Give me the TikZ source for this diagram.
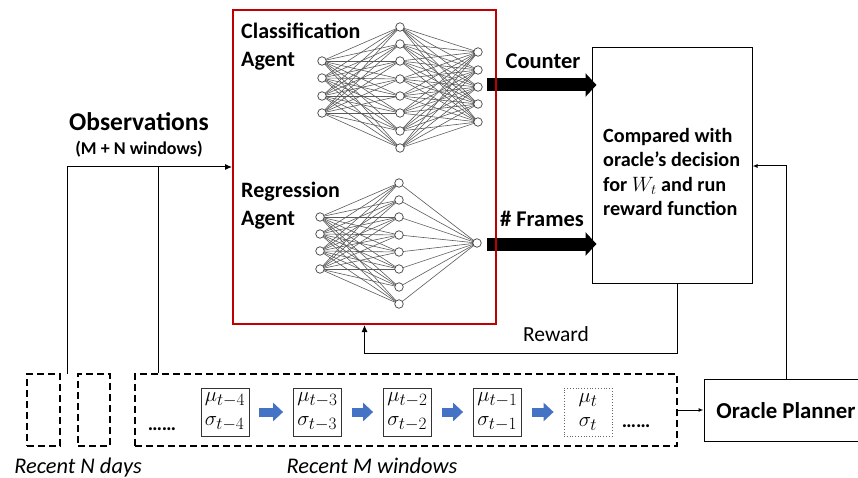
\documentclass[tikz,border=0pt]{standalone}
\usepackage{fontspec}
\setmainfont{Carlito}
\usetikzlibrary{arrows.meta,calc}
\DeclareMathSizes{22}{22}{17}{13}
\definecolor{agentred}{HTML}{C00000}
\definecolor{stepblue}{HTML}{4472C4}
\definecolor{wire}{HTML}{5A5A5A}

\begin{document}
\begin{tikzpicture}[x=1pt,y=-1pt,
  neuron/.style={circle, draw=black!75, fill=white, line width=0.7pt, minimum size=8.5pt, inner sep=0pt},
  synapse/.style={draw=wire, line width=0.6pt},
  agentbox/.style={draw=agentred, line width=2pt, inner sep=0pt},
  plainbox/.style={draw=black, line width=1pt, inner sep=0pt},
  dashbox/.style={draw=black, line width=1.3pt, dash pattern=on 7pt off 4pt, inner sep=0pt},
  statbox/.style={draw=black!80, line width=0.8pt, minimum width=48pt, minimum height=48pt, inner sep=0pt, align=left, font=\fontsize{22}{24}\selectfont},
  fatarrow/.style={line width=13pt, -{Triangle[length=11pt,width=23pt]}},
  steparrow/.style={draw=stepblue, line width=9pt, -{Triangle[length=10pt,width=18pt]}, shorten <=10pt, shorten >=10pt},
  thin/.style={draw=black, line width=1pt},
  tip/.style={-{Latex[length=7pt,width=6pt]}},
  smalltip/.style={-{Latex[length=5pt,width=4pt]}},
  boldlabel/.style={font=\fontsize{22.5}{26}\selectfont\bfseries, inner sep=0pt, anchor=base},
  itlabel/.style={font=\fontsize{22.4}{26}\selectfont\itshape, inner sep=0pt, anchor=base}
]
\useasboundingbox (0,0) rectangle (858,478);

% ---------- comparison box and its inputs ----------
\node[plainbox, minimum width=160pt, minimum height=235pt] (judge) at (672,165.5) {};
\node[inner sep=0pt, anchor=north west, align=left, font=\fontsize{20.2}{24.5}\selectfont\bfseries] (judgetext) at (603,128)
  {Compared with\\oracle’s decision\\for $W_t$ and run\\reward function};

\coordinate (cnt) at (487,85);
\coordinate (frm) at (487,244);
\draw[fatarrow, shorten >=-5pt] (cnt) -- (judge.west |- cnt);
\draw[fatarrow, shorten >=-5pt] (frm) -- (judge.west |- frm);
\node[boldlabel] (counterlbl) at (543,69) {Counter};
\node[boldlabel] (frameslbl) at (542,226) {\# Frames};

% ---------- agents ----------
\node[agentbox, minimum width=263pt, minimum height=314pt] (agent) at (364.5,167) {};

% classification network: 4 - 8 - 5
\foreach \i/\y in {1/61,2/78,3/96,4/113} \coordinate (ci\i) at (322,\y);
\foreach \j/\y in {1/27,2/44,3/61,4/79,5/96,6/113,7/131,8/148} \coordinate (ch\j) at (400,\y);
\foreach \k/\y in {1/52,2/70,3/87,4/104,5/122} \coordinate (co\k) at (478,\y);
\foreach \i in {1,...,4} \foreach \j in {1,...,8} \draw[synapse] (ci\i) -- (ch\j);
\foreach \j in {1,...,8} \foreach \k in {1,...,5} \draw[synapse] (ch\j) -- (co\k);
\foreach \i in {1,...,4} \node[neuron] (cin\i) at (ci\i) {};
\foreach \j in {1,...,8} \node[neuron] (chn\j) at (ch\j) {};
\foreach \k in {1,...,5} \node[neuron] (con\k) at (co\k) {};

% regression network: 4 - 8 - 1
\foreach \i/\y in {1/217,2/234,3/251,4/269} \coordinate (ri\i) at (320,\y);
\foreach \j/\y in {1/183,2/200,3/217,4/235,5/252,6/269,7/287,8/304} \coordinate (rh\j) at (399,\y);
\coordinate (ro) at (477,243);
\foreach \i in {1,...,4} \foreach \j in {1,...,8} \draw[synapse] (ri\i) -- (rh\j);
\foreach \j in {1,...,8} \draw[synapse] (rh\j) -- (ro);
\foreach \i in {1,...,4} \node[neuron] (rin\i) at (ri\i) {};
\foreach \j in {1,...,8} \node[neuron] (rhn\j) at (rh\j) {};
\node[neuron] (ron) at (ro) {};

\node[inner sep=0pt, anchor=north west, align=left, font=\fontsize{22}{27.5}\selectfont\bfseries] (clslbl) at (241,23) {Classification\\Agent};
\node[inner sep=0pt, anchor=north west, align=left, font=\fontsize{22}{27.5}\selectfont\bfseries] (reglbl) at (241,182) {Regression\\Agent};

% ---------- observation windows ----------
\node[dashbox, minimum width=33pt, minimum height=72pt] (nbox1) at (43.5,410) {};
\node[dashbox, minimum width=32pt, minimum height=72pt] (nbox2) at (94,410) {};
\node[dashbox, minimum width=542pt, minimum height=72pt] (mbox) at (406,410) {};

\node[statbox] (m4) at (225,412) {$\mu_{t-4}$\\$\sigma_{t-4}$};
\node[statbox] (m3) at (317.5,412) {$\mu_{t-3}$\\$\sigma_{t-3}$};
\node[statbox] (m2) at (407.5,412) {$\mu_{t-2}$\\$\sigma_{t-2}$};
\node[statbox] (m1) at (497.5,412) {$\mu_{t-1}$\\$\sigma_{t-1}$};
\node[statbox, draw=black!60, dotted, align=center] (m0) at (588,412) {$\mu_{t}$\\$\sigma_{t}$};
\draw[steparrow] (m4) -- (m3);
\draw[steparrow] (m3) -- (m2);
\draw[steparrow] (m2) -- (m1);
\draw[steparrow] (m1) -- (m0);
\node[boldlabel, font=\fontsize{20}{24}\selectfont\bfseries] (dotsl) at (162,430) {……};
\node[boldlabel, font=\fontsize{20}{24}\selectfont\bfseries] (dotsr) at (636,427) {……};

\node[itlabel] (nlbl) at (78,473) {Recent N days};
\node[itlabel] (mlbl) at (372,473) {Recent M windows};

% ---------- oracle ----------
\node[plainbox, minimum width=164pt, minimum height=62pt] (oracle) at (786,410) {};
\node[boldlabel, font=\fontsize{22.8}{27}\selectfont\bfseries] (oraclelbl) at (786,418) {Oracle Planner};
\draw[thin, smalltip] (mbox.east) -- (oracle.west);
\coordinate (orc) at (786,166);
\draw[thin, smalltip] (oracle.north) |- (judge.east |- orc);

% ---------- reward feedback ----------
\coordinate (rw) at (677,353);
\draw[thin, tip] (judge.south -| rw) -- (rw) -| (agent.south);
\node[inner sep=0pt, anchor=base, font=\fontsize{21.5}{25}\selectfont] (rewardlbl) at (556,341) {Reward};

% ---------- observations feed ----------
\node[boldlabel, font=\fontsize{25.5}{30}\selectfont\bfseries] (obslbl) at (139,131) {Observations};
\node[boldlabel, font=\fontsize{18}{21}\selectfont\bfseries] (obssub) at (139,155) {(M + N windows)};
\coordinate (obsN) at (67,374);
\coordinate (obsM) at (158,167);
\draw[thin, tip] (obsN) |- (agent.west |- obsM);
\draw[thin] (mbox.north -| obsM) -- (obsM);
\end{tikzpicture}
\end{document}
